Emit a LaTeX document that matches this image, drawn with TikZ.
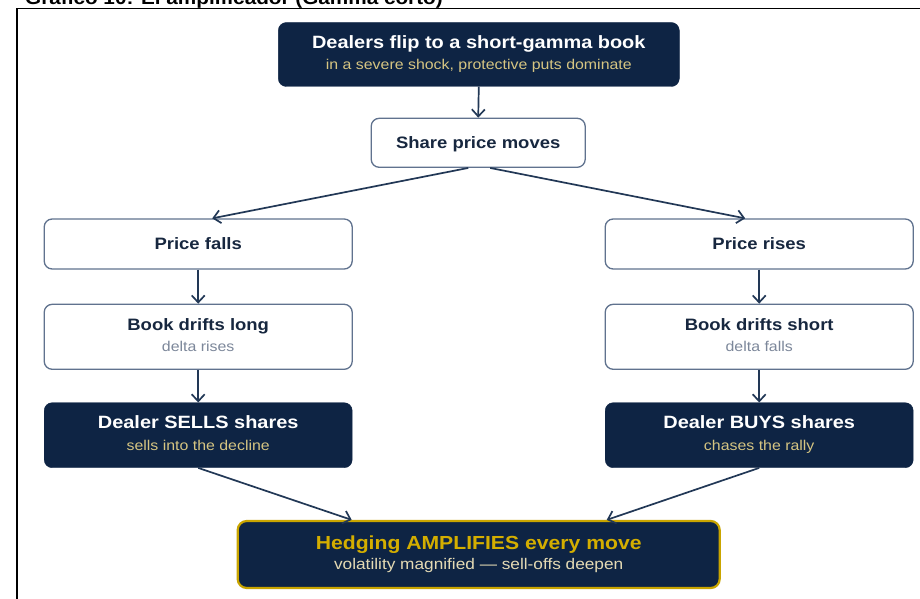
\documentclass[tikz,border=0pt]{standalone}
\usepackage{fontspec}
\setmainfont[FakeStretch=1.12]{Liberation Sans}
\usetikzlibrary{arrows.meta}
\definecolor{navy}{HTML}{0E2444}
\definecolor{edgec}{HTML}{60728E}
\definecolor{arrc}{HTML}{223856}
\definecolor{goldb}{HTML}{C9A500}
\definecolor{goldt}{HTML}{D4AE00}
\definecolor{subgold}{HTML}{D6C582}
\definecolor{sublight}{HTML}{E4DAB4}
\definecolor{subgray}{HTML}{7C879A}
\definecolor{txtnavy}{HTML}{17273F}
\begin{document}
\begin{tikzpicture}[x=1pt,y=-1pt,
  lightbox/.style={draw=edgec, line width=1.3pt, fill=white, rounded corners=8pt, inner sep=0pt},
  darkbox/.style={draw=navy, fill=navy, rounded corners=8pt, inner sep=0pt},
  hedbox/.style={draw=goldb, fill=navy, line width=2.2pt, rounded corners=9pt, inner sep=0pt},
  conn/.style={draw=arrc, line width=1.7pt, -{Straight Barb[length=7pt,width=13pt,line width=1.7pt]}},
  ttl/.style={anchor=base, inner sep=0pt, font=\bfseries\fontsize{16.5}{19}\selectfont, text=txtnavy},
  dttl/.style={anchor=base, inner sep=0pt, font=\bfseries\fontsize{17.8}{20}\selectfont, text=white},
  gsub/.style={anchor=base, inner sep=0pt, font=\fontsize{14.2}{16}\selectfont, text=subgray},
  ysub/.style={anchor=base, inner sep=0pt, font=\fontsize{14.2}{16}\selectfont, text=subgold},
]
\useasboundingbox (0,0) rectangle (920,599);
\clip (0,0) rectangle (920,599);
\fill[white] (0,0) rectangle (920,599);

% partial heading and frame
\node[anchor=base west, inner sep=0pt, font=\bfseries\fontsize{18.5}{20}\selectfont] (head) at (25,4.5) {Gráfico 10: El amplificador (Gamma corto)};
\draw[black, line width=1.3pt] (17,600) -- (17,8.5) -- (921,8.5);

% boxes
\node[darkbox, minimum width=401pt, minimum height=64pt] (top) at (478.8,54.5) {};
\node[lightbox, minimum width=214pt, minimum height=49pt] (share) at (478.2,142.8) {};
\node[lightbox, minimum width=308pt, minimum height=50pt] (pfall) at (198.2,244) {};
\node[lightbox, minimum width=308pt, minimum height=50pt] (prise) at (759.2,244) {};
\node[lightbox, minimum width=308pt, minimum height=65pt] (blong) at (198.2,336.8) {};
\node[lightbox, minimum width=308pt, minimum height=65pt] (bshort) at (759.2,336.8) {};
\node[darkbox, minimum width=308pt, minimum height=65pt] (sells) at (198.2,435.2) {};
\node[darkbox, minimum width=308pt, minimum height=65pt] (buys) at (759.2,435.2) {};
\node[hedbox, minimum width=482pt, minimum height=67pt] (hed) at (478.7,554.5) {};

% texts
\node[dttl] (topt) at (478.8,48.3) {Dealers flip to a short-gamma book};
\node[ysub] (tops) at (478.8,70) {in a severe shock, protective puts dominate};
\node[ttl] (sharet) at (478.2,148.5) {Share price moves};
\node[ttl] (pfallt) at (198.2,249) {Price falls};
\node[ttl] (priset) at (759.2,249) {Price rises};
\node[ttl] (blongt) at (198.2,330) {Book drifts long};
\node[gsub] (blongs) at (198.2,351.7) {delta rises};
\node[ttl] (bshortt) at (759.2,330) {Book drifts short};
\node[gsub] (bshorts) at (759.2,351.7) {delta falls};
\node[dttl] (sellst) at (198.2,428.3) {Dealer SELLS shares};
\node[ysub] (sellss) at (198.2,450) {sells into the decline};
\node[dttl] (buyst) at (759.2,428.3) {Dealer BUYS shares};
\node[ysub] (buyss) at (759.2,450) {chases the rally};
\node[anchor=base, inner sep=0pt, font=\bfseries\fontsize{18.9}{21}\selectfont, text=goldt] (hedt) at (478.7,549.3) {Hedging AMPLIFIES every move};
\node[anchor=base, inner sep=0pt, font=\fontsize{15.4}{17}\selectfont, text=sublight] (heds) at (478.7,569.5) {volatility magnified — sell-offs deepen};

% connectors
\draw[conn] (top.south) -- (share.north);
\draw[conn] ([xshift=-10pt]share.south) -- ([xshift=14pt]pfall.north);
\draw[conn] ([xshift=12pt]share.south) -- ([xshift=-14pt]prise.north);
\draw[conn] (pfall.south) -- (blong.north);
\draw[conn] (prise.south) -- (bshort.north);
\draw[conn] (blong.south) -- (sells.north);
\draw[conn] (bshort.south) -- (buys.north);
\draw[conn] (sells.south) -- ([xshift=-127pt]hed.north);
\draw[conn] (buys.south) -- ([xshift=128pt]hed.north);
\end{tikzpicture}
\end{document}
